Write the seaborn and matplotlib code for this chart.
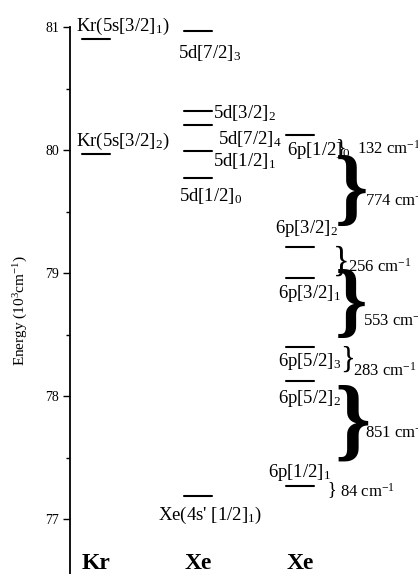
import matplotlib
matplotlib.use("Agg")
import matplotlib.pyplot as plt
import matplotlib.transforms as mtransforms
from matplotlib.ticker import MultipleLocator
import seaborn as sns
import pandas as pd

# level energies, 10^3 cm^-1
kr_names = [r"Kr(5s[3/2]$_1$)", r"Kr(5s[3/2]$_2$)"]
kr_energy = [80.90, 79.97]
xe5d_names = [r"5d[7/2]$_3$", r"5d[3/2]$_2$", r"5d[7/2]$_4$", r"5d[1/2]$_1$",
              r"5d[1/2]$_0$", r"Xe(4s' [1/2]$_1$)"]
xe5d_energy = [80.97, 80.32, 80.20, 79.99, 79.77, 77.19]
xe6p_names = [r"6p[1/2]$_0$", r"6p[3/2]$_2$", r"6p[3/2]$_1$", r"6p[5/2]$_3$",
              r"6p[5/2]$_2$", r"6p[1/2]$_1$"]
xe6p_energy = [80.12, 79.21, 78.96, 78.40, 78.12, 77.27]
column_names = ["Kr", "Xe", "Xe"]
gap_values = ["132", "774", "256", "553", "283", "851", "84"]

# label offsets from the level centre, pixels (dx, dy up)
kr_offsets = [(-20, 8), (-20, 8)]
xe5d_offsets = [(-20, -27), (15, -7), (20, -19), (15, -15), (-19, -23), (-40, -24)]
xe6p_offsets = [(-13, -20), (-25, 14), (-22, -20), (-22, -19), (-22, -22), (-32, 9)]
# braces: x, centre y (pixels from top), font size, bold; text x, centre y
gap_layout = [
    (336, 148, 16, False, 357, 149),
    (335, 194, 61, True, 365, 201),
    (333, 262, 25, False, 348, 267),
    (335, 307, 59, True, 363, 321),
    (340, 360, 22, False, 353, 371),
    (334, 426, 66, True, 365, 433),
    (327, 490, 13, False, 340, 492),
]

W, H = 418, 574
sns.set_style("ticks")
plt.rcParams["font.family"] = ["Liberation Serif", "DejaVu Serif"]
plt.rcParams["mathtext.fontset"] = "custom"
plt.rcParams["mathtext.rm"] = "Liberation Serif"
plt.rcParams["mathtext.it"] = "Liberation Serif:italic"
plt.rcParams["mathtext.bf"] = "Liberation Serif:bold"
for key in ["text.color", "axes.labelcolor", "axes.edgecolor",
            "xtick.color", "ytick.color"]:
    plt.rcParams[key] = "black"

fig = plt.figure(figsize=(W / 100, H / 100), dpi=100)
ax = fig.add_axes([70 / W, 0, 1 - 70 / W, 1 - 27 / H])

columns = [(kr_names, kr_energy, kr_offsets),
           (xe5d_names, xe5d_energy, xe5d_offsets),
           (xe6p_names, xe6p_energy, xe6p_offsets)]
half = 0.137
rows = []
for col, (names, energies, _) in enumerate(columns):
    for name, e in zip(names, energies):
        rows.append({"level": f"{col}-{name}", "x": col - half, "energy": e})
        rows.append({"level": f"{col}-{name}", "x": col + half, "energy": e})
levels = pd.DataFrame(rows)

sns.lineplot(data=levels, x="x", y="energy", units="level", estimator=None,
             color="black", linewidth=1.5, legend=False, ax=ax)

for col, (names, energies, offsets) in enumerate(columns):
    for name, e, (dx, dy) in zip(names, energies, offsets):
        ax.annotate(name, (col, e), xytext=(dx, dy), textcoords="offset pixels",
                    ha="left", va="baseline", fontsize=13.5, color="black")

ax.set_xlim((70 - 96) / 102, (418 - 96) / 102)
ax.set_ylim(76.553, 81.0)
ax.set_yticks([77, 78, 79, 80, 81])
ax.yaxis.set_minor_locator(MultipleLocator(0.5))
ax.tick_params(axis="y", which="major", direction="out", length=5, width=1,
               labelsize=10, pad=3, colors="black")
ax.tick_params(axis="y", which="minor", direction="out", length=3, width=1,
               colors="black")
ax.set_xticks([])
ax.set_xlabel("")
ax.set_ylabel("")
for side in ["top", "right", "bottom"]:
    ax.spines[side].set_visible(False)
ax.spines["left"].set_linewidth(1.3)
ax.spines["left"].set_color("black")
ax.patch.set_alpha(0)

blend = mtransforms.blended_transform_factory(ax.transData, ax.transAxes)
for col, name in enumerate(column_names):
    ax.text(col, (H - 569) / (H - 27), name, transform=blend, ha="center",
            va="baseline", fontsize=17, fontweight="bold", color="black")

fig.text(21 / W, 1 - 311 / H, r"Energy (10$^3$cm$^{-1}$)", rotation=90,
         ha="center", va="center", fontsize=11, color="black")

for value, (bx, by, bs, bold, tx, ty) in zip(gap_values, gap_layout):
    fig.text(bx / W, 1 - by / H, "}", ha="left", va="center", fontsize=bs,
             fontweight="bold" if bold else "normal", color="black")
    fig.text(tx / W, 1 - ty / H, value + r" cm$^{-1}$", ha="left", va="center",
             fontsize=12, color="black")

fig.savefig("out.png", dpi=100)
